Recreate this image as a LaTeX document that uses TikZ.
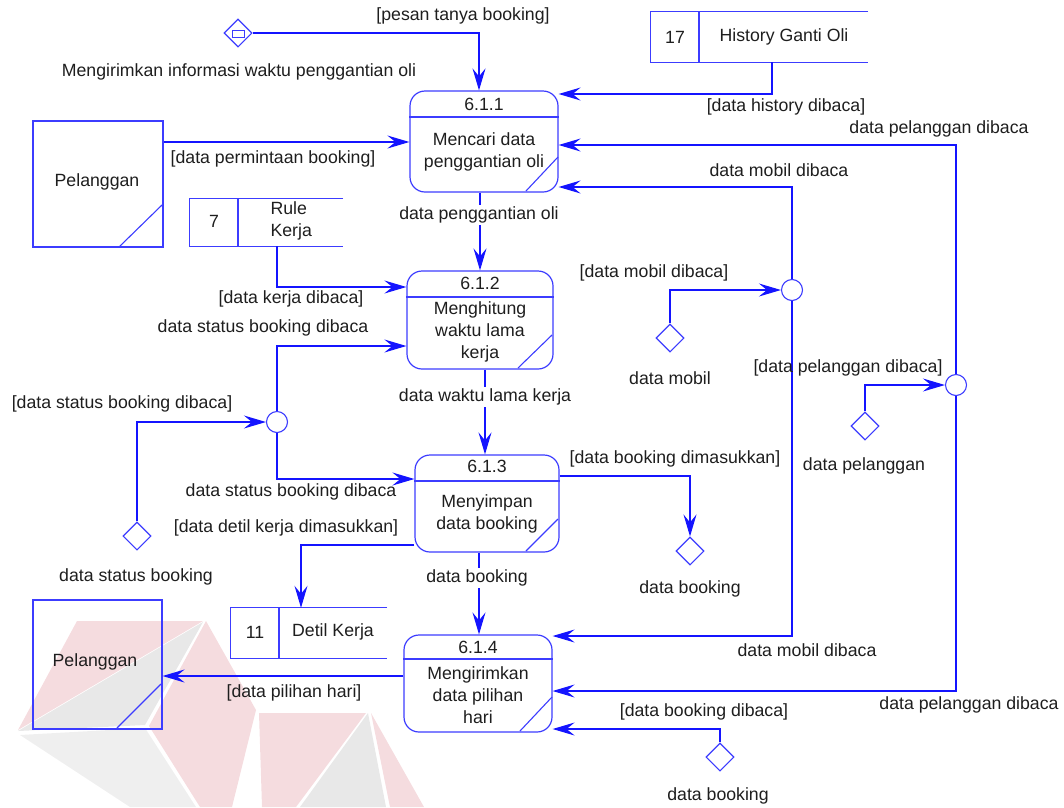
\documentclass[tikz,border=0pt]{standalone}
\usepackage{fontspec}
\setmainfont{Liberation Sans}
\usetikzlibrary{shapes.geometric,arrows.meta}
\definecolor{ln}{RGB}{20,20,255}
\definecolor{bx}{RGB}{60,60,255}
\definecolor{tx}{RGB}{30,30,30}
\definecolor{wmpink}{RGB}{245,220,223}
\definecolor{wmgray}{RGB}{232,232,232}
\begin{document}
\begin{tikzpicture}[x=1pt,y=-1pt,
  every node/.style={font=\fontsize{17.7}{22}\selectfont, text=tx},
  link/.style={draw=ln, line width=1.2pt},
  thin/.style={draw=bx, line width=1.1pt},
  flow/.style={link, -{Stealth[length=22pt,width=13pt,inset=8pt]}},
  proc/.style={draw=bx, line width=1.2pt, rounded corners=15pt, inner sep=0pt},
  ent/.style={draw=bx, line width=1.1pt, inner sep=0pt},
  store/.style={inner sep=0pt},
  dia/.style={diamond, aspect=1, draw=bx, line width=1.1pt, minimum width=28pt, minimum height=28pt, inner sep=0pt},
  junc/.style={circle, draw=bx, line width=1.1pt, minimum size=21pt, inner sep=0pt},
  lab/.style={inner sep=1pt},
  onl/.style={lab, fill=white, inner sep=2pt}
]
\useasboundingbox (0,0) rectangle (1064,807);

% faint logo in the lower left
\fill[wmpink] (77,621) -- (203,621) -- (18,730) -- cycle;
\fill[wmgray] (18,731) -- (203,622) -- (145,725) -- cycle;
\fill[wmgray!70] (20,735) -- (145,728) -- (196,807) -- (130,807) -- cycle;
\fill[wmpink] (206,621) -- (256,710) -- (232,807) -- (200,807) -- (149,726) -- cycle;
\fill[wmpink] (259,713) -- (366,713) -- (296,807) -- (262,807) -- cycle;
\fill[wmgray] (368,713) -- (300,807) -- (386,807) -- cycle;
\fill[wmpink] (371,713) -- (424,807) -- (390,807) -- cycle;

% processes
\node[proc, minimum width=148pt, minimum height=101pt] (p1) at (484,141.5) {};
\node[proc, minimum width=146pt, minimum height=98pt] (p2) at (480,320) {};
\node[proc, minimum width=144pt, minimum height=97pt] (p3) at (487,503.5) {};
\node[proc, minimum width=148pt, minimum height=97pt] (p4) at (478,683.5) {};
\draw[thin] (p1.west |- 0,117) -- (p1.east |- 0,117);
\draw[thin] (p2.west |- 0,297) -- (p2.east |- 0,297);
\draw[thin] (p3.west |- 0,481) -- (p3.east |- 0,481);
\draw[thin] (p4.west |- 0,659) -- (p4.east |- 0,659);
\draw[thin] (526,191) -- (558,157);
\draw[thin] (518,368) -- (552,335);
\draw[thin] (526,551) -- (558,519);
\draw[thin] (520,731) -- (552,697);
\node (p1id) at (484,104) {6.1.1};
\node[align=center] (p1tx) at (484,152) {Mencari data\\penggantian oli};
\node (p2id) at (480,283) {6.1.2};
\node[align=center] (p2tx) at (480,332) {Menghitung\\waktu lama\\kerja};
\node (p3id) at (487,466) {6.1.3};
\node[align=center] (p3tx) at (487,514) {Menyimpan\\data booking};
\node (p4id) at (478,647) {6.1.4};
\node[align=center] (p4tx) at (478,695) {Mengirimkan\\data pilihan\\hari};

% external entities
\node[ent, minimum width=130pt, minimum height=126pt] (e1) at (98,184) {};
\node (e1tx) at (97,182) {Pelanggan};
\draw[thin] (120,246) -- (162,205);
\node[ent, minimum width=129pt, minimum height=129pt] (e2) at (97.5,664.5) {};
\node (e2tx) at (95,662) {Pelanggan};
\draw[thin] (117,728) -- (161,684);

% data stores
\node[store, minimum width=217pt, minimum height=50pt] (s17) at (759.5,37) {};
\draw[thin] (s17.north east) -- (s17.north west) -- (s17.south west) -- (s17.south east);
\draw[thin] (699,12) -- (699,62);
\node (s17no) at (675,37) {17};
\node (s17tx) at (784,37) {History Ganti Oli};

\node[store, minimum width=153pt, minimum height=47pt] (s7) at (266.5,222.5) {};
\draw[thin] (s7.north east) -- (s7.north west) -- (s7.south west) -- (s7.south east);
\draw[thin] (238,199) -- (238,246);
\node (s7no) at (214,221) {7};
\node[align=left, anchor=west] (s7tx) at (267,221) {Rule\\Kerja};

\node[store, minimum width=156pt, minimum height=50pt] (s11) at (309,633) {};
\draw[thin] (s11.north east) -- (s11.north west) -- (s11.south west) -- (s11.south east);
\draw[thin] (279,608) -- (279,658);
\node (s11no) at (255,632) {11};
\node (s11tx) at (333,632) {Detil Kerja};

% junctions
\node[junc] (c1) at (792,290) {};
\node[junc] (c2) at (956,385) {};
\node[junc] (c3) at (277,422) {};

% diamonds
\node[dia] (d0) at (238,33) {};
\draw[thin, line width=1pt] (232,30.5) rectangle (244,37);
\node[dia] (d1) at (670,338) {};
\node[dia] (d2) at (865,426) {};
\node[dia] (d3) at (137,536) {};
\node[dia] (d4) at (690,551) {};
\node[dia] (d5) at (720,757) {};
\node (d0tx) at (239,72) {Mengirimkan informasi waktu penggantian oli};
\node (d1tx) at (670,378) {data mobil};
\node (d2tx) at (864,466) {data pelanggan};
\node (d3tx) at (136,577) {data status booking};
\node (d4tx) at (690,589) {data booking};
\node (d5tx) at (718,796) {data booking};

% flows
\draw[flow] (d0.east) -| (479,0 |- p1.north);
\draw[flow] (772,0 |- s17.south) |- (p1.east |- 0,94);
\draw[flow] (e1.east |- 0,142) -- (p1.west |- 0,142);
\draw[flow] (480,0 |- p1.south) -- (480,0 |- p2.north);
\draw[flow] (277,0 |- s7.south) |- (p2.west |- 0,287);
\draw[flow] (c3.north) |- (p2.west |- 0,346);
\draw[flow] (c3.south) |- (p3.west |- 0,479);
\draw[flow] (d3.north) |- (c3.west);
\draw[flow] (485,0 |- p2.south) -- (485,0 |- p3.north);
\draw[flow] (p3.east |- 0,476) -| (d4.north);
\draw[flow] (p3.west |- 0,545) -| (301,0 |- s11.north);
\draw[flow] (479,0 |- p3.south) -- (479,0 |- p4.north);
\draw[flow] (d1.north) |- (c1.west);
\draw[flow] (c1.north) |- (p1.east |- 0,187);
\draw[flow] (c1.south) |- (p4.east |- 0,636);
\draw[flow] (c2.north) |- (p1.east |- 0,145);
\draw[flow] (c2.south) |- (p4.east |- 0,691);
\draw[flow] (d2.north) |- (c2.west);
\draw[flow] (d5.north) |- (p4.east |- 0,729);
\draw[flow] (p4.west |- 0,676) -- (e2.east |- 0,676);

% flow labels
\node[lab] (l1) at (463,16) {[pesan tanya booking]};
\node[lab] (l2) at (786,107) {[data history dibaca]};
\node[lab] (l3) at (939,129) {data pelanggan dibaca};
\node[lab] (l4) at (779,170) {data mobil dibaca};
\node[lab] (l5) at (273,159) {[data permintaan booking]};
\node[onl] (l6) at (479,215) {data penggantian oli};
\node[lab] (l7) at (291,299) {[data kerja dibaca]};
\node[lab] (l8) at (263,328) {data status booking dibaca};
\node[lab] (l9) at (654,273) {[data mobil dibaca]};
\node[onl] (l10) at (485,397) {data waktu lama kerja};
\node[lab] (l11) at (848,368) {[data pelanggan dibaca]};
\node[lab] (l12) at (122,404) {[data status booking dibaca]};
\node[lab] (l13) at (291,492) {data status booking dibaca};
\node[lab] (l14) at (286,528) {[data detil kerja dimasukkan]};
\node[lab] (l15) at (675,459) {[data booking dimasukkan]};
\node[onl] (l16) at (477,578) {data booking};
\node[lab] (l17) at (294,693) {[data pilihan hari]};
\node[lab] (l18) at (807,650) {data mobil dibaca};
\node[lab] (l19) at (969,705) {data pelanggan dibaca};
\node[lab] (l20) at (704,712) {[data booking dibaca]};
\end{tikzpicture}
\end{document}
